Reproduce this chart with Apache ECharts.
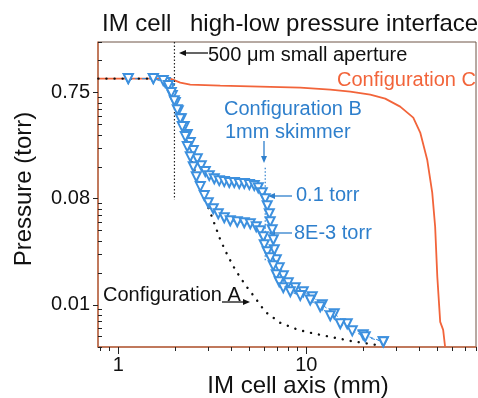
<!DOCTYPE html>
<html>
<head>
<meta charset="utf-8">
<script src="https://cdn.jsdelivr.net/npm/echarts@6/dist/echarts.min.js"></script>
<style>
  html, body { margin: 0; padding: 0; background: #fff; }
  #chart { width: 478px; height: 398px; }
</style>
</head>
<body>
<div id="chart"></div>
<script>
// axis ticks (y in decade positions, labels as printed on the figure)
var xTickValues = [1, 10];
var xMinorValues = [0.8, 0.9, 2, 3, 4, 5, 6, 7, 8, 9, 20, 30, 40, 50, 60, 70, 80];
var yTickValues = [0.01, 0.1, 1];
var yTickLabels = ['0.01', '0.08', '0.75'];
var yMinorValues = [0.004, 0.005, 0.006, 0.007, 0.008, 0.009,
  0.02, 0.03, 0.04, 0.05, 0.06, 0.07, 0.08, 0.09,
  0.2, 0.3, 0.4, 0.5, 0.6, 0.7, 0.8, 0.9, 2, 3];

// Configuration A (dotted)
var configA = [[0.783, 1.355], [1.673, 1.355], [1.80, 1.27], [1.938, 1.022], [2.06, 0.805], [2.163, 0.556],
  [2.30, 0.36], [2.415, 0.249], [2.568, 0.176], [2.731, 0.127], [2.94, 0.0917], [3.162, 0.0662],
  [3.488, 0.041], [3.80, 0.0296], [4.19, 0.0214], [4.74, 0.0154], [5.355, 0.0116], [6.05, 0.0086],
  [7.27, 0.00676], [9.07, 0.0058], [11.17, 0.00532], [13.42, 0.00499], [17.14, 0.00457], [23.3, 0.0042]];

// Configuration B, 0.1 torr
var configB1 = [[1.13, 1.355], [1.536, 1.355], [1.778, 1.243], [1.868, 1.091], [1.938, 0.937], [2.011, 0.805],
  [2.085, 0.676], [2.163, 0.568], [2.244, 0.478], [2.328, 0.402], [2.415, 0.338], [2.506, 0.284],
  [2.632, 0.238], [2.764, 0.205], [2.903, 0.180], [3.048, 0.165], [3.241, 0.154], [3.445, 0.148],
  [3.663, 0.145], [3.894, 0.142], [4.14, 0.142], [4.40, 0.139], [4.68, 0.139], [4.98, 0.136],
  [5.29, 0.133], [5.555, 0.127], [5.834, 0.114], [6.05, 0.100], [6.20, 0.0859], [6.36, 0.0722],
  [6.43, 0.0607], [6.59, 0.051], [6.68, 0.041], [6.76, 0.033], [6.93, 0.0266], [7.18, 0.0223],
  [7.55, 0.0188], [8.02, 0.0161], [8.74, 0.0145], [9.64, 0.0133], [10.76, 0.0119], [12.16, 0.0100],
  [14.09, 0.00823], [16.52, 0.00662], [20.1, 0.00521], [25.7, 0.00448]];

// Configuration B, 8E-3 torr
var configB2 = [[1.13, 1.355], [1.536, 1.355], [1.735, 1.298], [1.845, 1.164], [1.914, 1.0], [1.986, 0.84],
  [2.06, 0.691], [2.137, 0.568], [2.19, 0.478], [2.272, 0.385], [2.328, 0.31], [2.415, 0.249],
  [2.506, 0.200], [2.60, 0.161], [2.731, 0.130], [2.867, 0.107], [3.011, 0.0917], [3.201, 0.0804],
  [3.403, 0.0722], [3.663, 0.0662], [3.942, 0.062], [4.295, 0.0607], [4.68, 0.0594], [5.037, 0.0581],
  [5.42, 0.0544], [5.693, 0.0499], [5.906, 0.0438], [5.978, 0.0368], [6.20, 0.0316], [6.434, 0.0277],
  [6.675, 0.0233], [6.925, 0.0192], [7.184, 0.0165], [7.545, 0.0145], [8.223, 0.0133], [9.292, 0.0122],
  [10.5, 0.0111], [11.87, 0.00957], [13.42, 0.00787], [15.17, 0.00662], [17.57, 0.00568], [20.6, 0.00499],
  [25.7, 0.00448]];

// Configuration C
var configC = [[0.783, 1.355], [1.891, 1.355], [2.137, 1.243], [2.414, 1.19], [3.488, 1.164], [5.69, 1.139],
  [9.29, 1.115], [13.42, 1.067], [17.14, 1.022], [21.9, 0.957], [26.3, 0.878], [31.6, 0.738],
  [37.1, 0.581], [40.4, 0.42], [44.0, 0.233], [46.8, 0.114], [48.5, 0.0544], [49.8, 0.0184],
  [51.6, 0.0069], [53.5, 0.0058], [54.8, 0.0040]];

// aperture and skimmer positions
var aperture = [[1.99, 3], [1.99, 0.098]];
var skimmer = [[6.05, 0.196], [6.05, 0.0255]];

var FONT = '"Liberation Sans", Arial, sans-serif';
var BLUE = '#2e7fcc';
var MARK = '#3d90de';
var ORANGE = '#f2643a';
var AXIS = '#c46a46';

function arrow(x1, y1, x2, y2, color) {
  var a = Math.atan2(y2 - y1, x2 - x1);
  var L = 7, W = 3;
  var bx = x2 - L * Math.cos(a), by = y2 - L * Math.sin(a);
  return {
    type: 'group',
    children: [
      { type: 'line', shape: { x1: x1, y1: y1, x2: bx, y2: by }, style: { stroke: color, lineWidth: 1.3 } },
      { type: 'polygon', shape: { points: [[x2, y2],
          [bx + W * Math.sin(a), by - W * Math.cos(a)],
          [bx - W * Math.sin(a), by + W * Math.cos(a)]] }, style: { fill: color } }
    ]
  };
}
function label(x, y, text, color, size) {
  return { type: 'text', style: { x: x, y: y, text: text, fill: color, font: size + 'px ' + FONT, textVerticalAlign: 'middle' } };
}

var chart = echarts.init(document.getElementById('chart'));
var option = {
  backgroundColor: '#fff',
  animation: false,
  grid: { left: 98, right: 2, top: 42, bottom: 51, show: true, borderColor: '#6e5446', borderWidth: 1 },
  xAxis: [
    {
      type: 'log', min: 0.78, max: 80,
      axisLine: { show: true, lineStyle: { color: AXIS, width: 1.5 } },
      axisTick: { show: true, customValues: xTickValues, length: 7, lineStyle: { color: '#222' } },
      axisLabel: { customValues: xTickValues, color: '#111', fontSize: 20, fontFamily: FONT, margin: 8 },
      splitLine: { show: false }
    },
    {
      type: 'log', min: 0.78, max: 80, position: 'bottom',
      axisLine: { show: false },
      axisTick: { show: true, customValues: xMinorValues, length: 4, lineStyle: { color: '#222' } },
      axisLabel: { show: false },
      splitLine: { show: false }
    }
  ],
  yAxis: [
    {
      type: 'log', min: 0.004, max: 3,
      axisLine: { show: true, lineStyle: { color: AXIS, width: 1.5 } },
      axisTick: { show: true, customValues: yTickValues, length: 5, lineStyle: { color: '#222' } },
      axisLabel: {
        customValues: yTickValues, color: '#111', fontSize: 20, fontFamily: FONT, margin: 8,
        formatter: function (v) {
          for (var i = 0; i < yTickValues.length; i++) {
            if (Math.abs(Math.log10(v) - Math.log10(yTickValues[i])) < 0.01) return yTickLabels[i];
          }
          return '';
        }
      },
      splitLine: { show: false }
    },
    {
      type: 'log', min: 0.004, max: 3, position: 'left',
      axisLine: { show: false },
      axisTick: { show: true, inside: true, customValues: yMinorValues, length: 4, lineStyle: { color: '#222' } },
      axisLabel: { show: false },
      splitLine: { show: false }
    }
  ],
  series: [
    {
      name: 'Configuration C', type: 'line', data: configC, showSymbol: false,
      lineStyle: { color: ORANGE, width: 1.8 }
    },
    {
      name: 'aperture', type: 'line', data: aperture, showSymbol: false,
      lineStyle: { color: '#222', width: 1.2, type: [1.5, 2] }
    },
    {
      name: 'skimmer', type: 'line', data: skimmer, showSymbol: false,
      lineStyle: { color: BLUE, width: 1.2, type: [1.5, 2] }
    },
    {
      name: '0.1 torr', type: 'line', data: configB1,
      symbol: 'emptyTriangle', symbolRotate: 180, symbolSize: 9,
      itemStyle: { color: MARK, borderWidth: 1.2 },
      lineStyle: { color: MARK, width: 1, type: [4, 3] }
    },
    {
      name: '8E-3 torr', type: 'line', data: configB2,
      symbol: 'emptyTriangle', symbolRotate: 180, symbolSize: 9,
      itemStyle: { color: MARK, borderWidth: 1.2 },
      lineStyle: { color: MARK, width: 1, type: [4, 3] }
    },
    {
      name: 'Configuration A', type: 'line', data: configA, showSymbol: false,
      lineStyle: { color: '#111', width: 2.4, type: [0.1, 8], cap: 'round' }
    }
  ],
  graphic: [
    label(102, 24, 'IM cell', '#111', 24),
    label(190, 24, 'high-low pressure interface', '#111', 24),
    label(208, 55, '500 μm small aperture', '#111', 20),
    arrow(208, 53, 179, 53, '#111'),
    label(337, 80, 'Configuration C', ORANGE, 20),
    label(224, 109, 'Configuration B', BLUE, 20),
    label(225, 132, '1mm skimmer', BLUE, 20),
    arrow(264, 141, 264, 163, BLUE),
    label(296, 195, '0.1 torr', BLUE, 20),
    arrow(292, 196, 268, 196, BLUE),
    label(294, 233, '8E-3 torr', BLUE, 20),
    arrow(292, 233, 268, 233, BLUE),
    label(103, 295, 'Configuration A', '#111', 20),
    arrow(222, 302, 250, 302, '#111'),
    { type: 'text', style: { x: 298, y: 386, text: 'IM cell axis (mm)', fill: '#111', font: '24px ' + FONT, textAlign: 'center', textVerticalAlign: 'middle' } },
    { type: 'text', rotation: Math.PI / 2, x: 24, y: 189, style: { x: 0, y: 0, text: 'Pressure (torr)', fill: '#111', font: '24px ' + FONT, textAlign: 'center', textVerticalAlign: 'middle' } }
  ]
};
chart.setOption(option);
</script>
</body>
</html>
